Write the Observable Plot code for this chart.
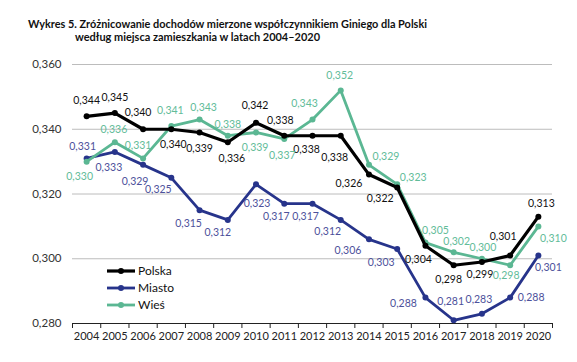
<!DOCTYPE html>
<html><head><meta charset="utf-8">
<script src="https://cdn.jsdelivr.net/npm/d3@7"></script>
<script src="https://cdn.jsdelivr.net/npm/@observablehq/plot@0.6"></script>
<style>
body{margin:0;background:#fff;font-family:Lato,"Open Sans",sans-serif;}
#wrap{position:relative;width:577px;height:362px;overflow:hidden;}
#title{display:block;}
#chart svg{display:block;}
#legend{position:absolute;left:107px;top:262px;font-size:12px;color:#111;}
.li{display:flex;align-items:center;height:17px;}
.li svg{margin-right:2px;}
</style></head>
<body><div id="wrap">
<svg id="title" width="577" height="50" font-family="Lato, sans-serif" font-weight="bold" fill="#111">
<text x="28" y="28" font-size="11" textLength="399" lengthAdjust="spacingAndGlyphs">Wykres 5. Zróżnicowanie dochodów mierzone współczynnikiem Giniego dla Polski</text>
<text x="75" y="41" font-size="11" textLength="245" lengthAdjust="spacingAndGlyphs">według miejsca zamieszkania w latach 2004–2020</text>
</svg>
<div id="chart"></div>
<div id="legend"></div>
</div>
<script>
const years = [2004,2005,2006,2007,2008,2009,2010,2011,2012,2013,2014,2015,2016,2017,2018,2019,2020];
const polska = [0.344,0.345,0.340,0.340,0.339,0.336,0.342,0.338,0.338,0.338,0.326,0.322,0.304,0.298,0.299,0.301,0.313];
const miasto = [0.331,0.333,0.329,0.325,0.315,0.312,0.323,0.317,0.317,0.312,0.306,0.303,0.288,0.281,0.283,0.288,0.301];
const wies   = [0.330,0.336,0.331,0.341,0.343,0.338,0.339,0.337,0.343,0.352,0.329,0.323,0.305,0.302,0.300,0.298,0.310];
const seriesNames = ["Polska","Miasto","Wieś"];
const yTicks = [0.28,0.30,0.32,0.34,0.36];

// label placement offsets (px) for each point
const polskaOff = [[0,-16],[0,-15],[-5,-17],[2,15],[0,16],[4,16],[-1,-17],[-4,-15],[-6,14],[-6,22],[-20,9],[-17,11],[-7,14],[-5,14],[-2,13],[-7,-19],[3,-13]];
const miastoOff = [[-4,-12],[-6,16],[-8,17],[-13,12],[-11,13],[-10,13],[1,19],[-8,13],[-7,13],[-13,12],[-21,11],[-16,14],[-22,6],[-3,-19],[-3,-14],[21,0],[10,12]];
const wiesOff   = [[-7,15],[-1,-13],[-5,-13],[-1,-15],[4,-12],[0,-11],[-1,15],[-2,17],[-8,-16],[-1,-15],[17,-8],[16,-7],[10,-12],[3,-11],[1,-11],[-4,10],[15,12]];

const styles = {
  "Polska": {line:"#000000", label:"#111111", sw:3.2},
  "Miasto": {line:"#27348b", label:"#4d519b", sw:2.8},
  "Wieś":   {line:"#5bb793", label:"#62bc99", sw:2.8}
};
const valuesBy = {"Polska":polska,"Miasto":miasto,"Wieś":wies};
const offBy = {"Polska":polskaOff,"Miasto":miastoOff,"Wieś":wiesOff};

const fmt = v => v.toFixed(3).replace(".", ",");
const boundaries = years.map(y => y - 0.5).concat([years[years.length-1] + 0.5]);

const marks = [
  Plot.gridY(yTicks.slice(1), {stroke:"#bcbcbc", strokeOpacity:1, strokeWidth:1}),
  Plot.ruleY([0.28], {stroke:"#222", strokeWidth:1}),
  Plot.axisY({ticks:yTicks, tickFormat:fmt, tickSize:0, tickPadding:11, fontSize:11.5, fill:"#333", label:null}),
  Plot.axisX({ticks:boundaries, tickFormat:()=>"", tickSize:5, stroke:"#222", label:null}),
  Plot.axisX({ticks:years, tickFormat:d=>String(d), tickSize:0, tickPadding:9, fontSize:11, fill:"#222", label:null})
];

const drawOrder = ["Miasto","Wieś","Polska"];
for (const name of drawOrder) {
  const st = styles[name];
  const rows = years.map((yr,i)=>({year:yr, value:valuesBy[name][i]}));
  marks.push(Plot.line(rows, {x:"year", y:"value", stroke:st.line, strokeWidth:st.sw, strokeLinejoin:"round"}));
  marks.push(Plot.dot(rows, {x:"year", y:"value", r:3, fill:st.line, stroke:"none"}));
}
for (const name of seriesNames) {
  const st = styles[name];
  years.forEach((yr,i)=>{
    const [dx,dy] = offBy[name][i];
    marks.push(Plot.text([{year:yr, value:valuesBy[name][i]}], {
      x:"year", y:"value", text:d=>fmt(d.value), dx, dy, fill:st.label, fontSize:10.5, textAnchor:"middle"
    }));
  });
}

const chart = Plot.plot({
  width:577, height:312,
  marginLeft:72, marginRight:25, marginTop:14, marginBottom:39,
  style:{fontFamily:"Lato, sans-serif", background:"#fff"},
  x:{type:"linear", domain:[2003.5,2020.5]},
  y:{domain:[0.28,0.36]},
  marks
});
document.getElementById("chart").appendChild(chart);

const leg = document.getElementById("legend");
for (const name of seriesNames) {
  const st = styles[name];
  const div = document.createElement("div");
  div.className = "li";
  div.innerHTML = `<svg width="29" height="8"><line x1="0" y1="4" x2="28" y2="4" stroke="${st.line}" stroke-width="${st.sw}"/><circle cx="14" cy="4" r="3" fill="${st.line}"/></svg><span>${name}</span>`;
  leg.appendChild(div);
}
</script>
</body></html>
